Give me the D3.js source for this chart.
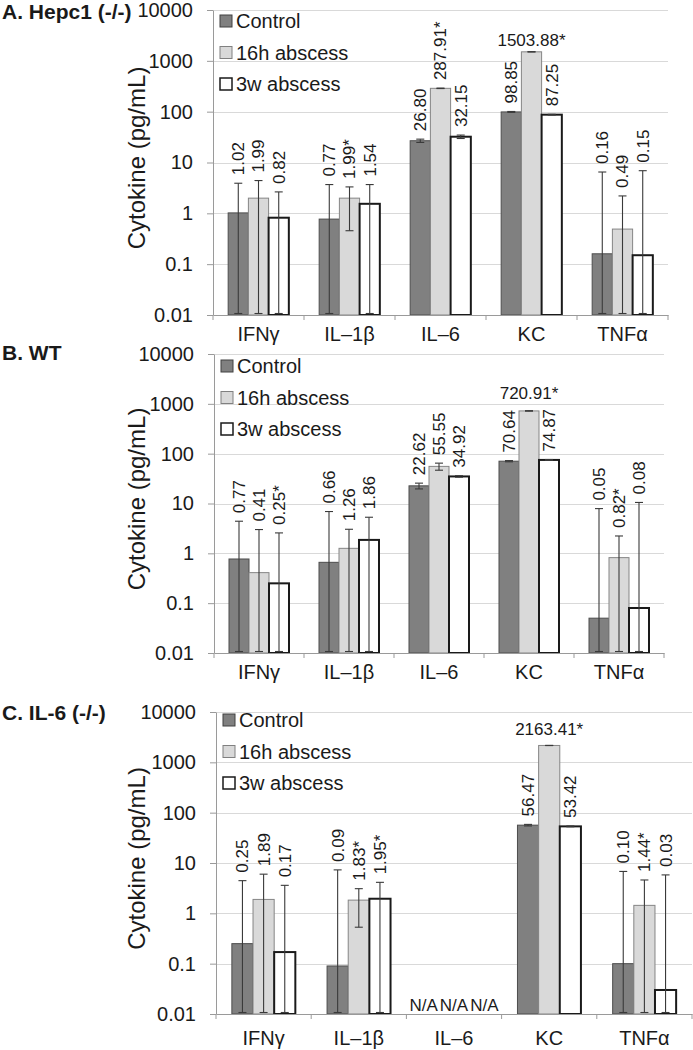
<!DOCTYPE html>
<html><head><meta charset="utf-8">
<script src="https://cdn.jsdelivr.net/npm/d3@7"></script>
<style>
body{margin:0;background:#fff;}
svg{display:block;font-family:"Liberation Sans",Arial,sans-serif;}
</style></head><body>
<svg id="chart" width="693" height="1050"></svg>
<script>
// ---------- data ----------
const categories = ["IFNγ", "IL–1β", "IL–6", "KC", "TNFα"];
const seriesNames = ["Control", "16h abscess", "3w abscess"];
const tickValues = [0.01, 0.1, 1, 10, 100, 1000, 10000];
const tickLabels = ["0.01", "0.1", "1", "10", "100", "1000", "10000"];
const panelTitles = ["A. Hepc1 (-/-)", "B. WT", "C. IL-6 (-/-)"];
const yTitle = "Cytokine (pg/mL)";
const naLabel = "N/A";

// Panel A: Hepc1 (-/-)
const aControl = [1.02, 0.77, 26.80, 98.85, 0.16];
const a16h     = [1.99, 1.99, 287.91, 1503.88, 0.49];
const a3w      = [0.82, 1.54, 32.15, 87.25, 0.15];
const aControlErrUp   = [2.89, 2.91, 2, 2, 6.34];
const a16hErrUp       = [2.42, 1.32, 3, 10, 1.71];
const a3wErrUp        = [1.82, 2.14, 2.5, 1.5, 6.75];
const aControlErrDown = [2.89, 2.91, 2, 2, 6.34];
const a16hErrDown     = [2.42, 1.535, 3, 10, 1.71];
const a3wErrDown      = [1.82, 2.14, 2.5, 1.5, 6.75];
const aControlStar = [false, false, false, false, false];
const a16hStar     = [false, true, true, true, false];
const a3wStar      = [false, false, false, false, false];

// Panel B: WT
const bControl = [0.77, 0.66, 22.62, 70.64, 0.05];
const b16h     = [0.41, 1.26, 55.55, 720.91, 0.82];
const b3w      = [0.25, 1.86, 34.92, 74.87, 0.08];
const bControlErrUp   = [3.64, 6.24, 3, 2, 7.85];
const b16hErrUp       = [2.59, 1.78, 9, 8, 1.41];
const b3wErrUp        = [2.32, 3.44, 1.2, 1.5, 10.42];
const bControlErrDown = [3.64, 6.24, 3, 2, 7.85];
const b16hErrDown     = [2.59, 1.78, 9, 8, 1.41];
const b3wErrDown      = [2.32, 3.44, 1.2, 1.5, 10.42];
const bControlStar = [false, false, false, false, false];
const b16hStar     = [false, false, false, true, true];
const b3wStar      = [true, false, false, false, false];

// Panel C: IL-6 (-/-)
const cControl = [0.25, 0.09, null, 56.47, 0.10];
const c16h     = [1.89, 1.83, null, 2163.41, 1.44];
const c3w      = [0.17, 1.95, null, 53.42, 0.03];
const cControlErrUp   = [4.21, 7.21, null, 2, 6.7];
const c16hErrUp       = [4.11, 1.26, null, 10, 3.16];
const c3wErrUp        = [3.43, 2.18, null, 1, 5.77];
const cControlErrDown = [4.21, 7.21, null, 2, 6.7];
const c16hErrDown     = [4.11, 1.30, null, 10, 3.16];
const c3wErrDown      = [3.43, 2.18, null, 1, 5.77];
const cControlStar = [false, false, false, false, false];
const c16hStar     = [false, true, false, true, true];
const c3wStar      = [false, true, false, false, false];

// ---------- styles / layout ----------
const seriesStyle = [
  {fill: "#808080", stroke: "#4d4d4d", sw: 1},
  {fill: "#d9d9d9", stroke: "#858585", sw: 1},
  {fill: "#ffffff", stroke: "#1a1a1a", sw: 2}
];
const legendStyle = [
  {fill: "#808080", stroke: "#404040", sw: 1},
  {fill: "#d9d9d9", stroke: "#808080", sw: 1},
  {fill: "#ffffff", stroke: "#1a1a1a", sw: 1.5}
];
const layouts = [
  {left: 213, right: 668, top: 10,  bottom: 315,  titleY: 19,  xLabelDy: 26, legendDy: 11, hGap: 6},
  {left: 214, right: 664, top: 354, bottom: 653,  titleY: 360, xLabelDy: 26, legendDy: 12, hGap: 12},
  {left: 216, right: 692, top: 712, bottom: 1014, titleY: 720, xLabelDy: 31, legendDy: 8,  hGap: 10}
];
const panels = [
  {title: panelTitles[0], L: layouts[0], series: [
    {values: aControl, up: aControlErrUp, down: aControlErrDown, star: aControlStar},
    {values: a16h, up: a16hErrUp, down: a16hErrDown, star: a16hStar},
    {values: a3w, up: a3wErrUp, down: a3wErrDown, star: a3wStar}]},
  {title: panelTitles[1], L: layouts[1], series: [
    {values: bControl, up: bControlErrUp, down: bControlErrDown, star: bControlStar},
    {values: b16h, up: b16hErrUp, down: b16hErrDown, star: b16hStar},
    {values: b3w, up: b3wErrUp, down: b3wErrDown, star: b3wStar}]},
  {title: panelTitles[2], L: layouts[2], series: [
    {values: cControl, up: cControlErrUp, down: cControlErrDown, star: cControlStar},
    {values: c16h, up: c16hErrUp, down: c16hErrDown, star: c16hStar},
    {values: c3w, up: c3wErrUp, down: c3wErrDown, star: c3wStar}]}
];

const TXT = "#1a1a1a", AX = "#9a9a9a", GRID = "#d9d9d9", ERR = "#3a3a3a";
const fmt = d3.format(".2f");

const svg = d3.select("#chart");
svg.append("rect").attr("width", 693).attr("height", 1050).attr("fill", "#fff");

panels.forEach(p => {
  const L = p.L;
  const g = svg.append("g");
  const x = d3.scaleBand().domain(categories).range([L.left, L.right]).padding(0);
  const cw = x.bandwidth();
  const xs = d3.scaleBand().domain(seriesNames).range([cw / 6, cw * 5 / 6]).padding(0);
  const y = d3.scaleLog().domain([0.01, 10000]).range([L.bottom, L.top]);

  // gridlines
  g.append("g").selectAll("line").data(tickValues.slice(1)).join("line")
    .attr("x1", L.left).attr("x2", L.right)
    .attr("y1", d => Math.round(y(d)) + 0.5).attr("y2", d => Math.round(y(d)) + 0.5)
    .attr("stroke", GRID).attr("stroke-width", 1);

  // bars
  p.series.forEach((s, si) => {
    const st = seriesStyle[si];
    g.append("g").selectAll("rect")
      .data(categories.map((c, ci) => ({c, v: s.values[ci]})).filter(d => d.v != null))
      .join("rect")
      .attr("x", d => x(d.c) + xs(seriesNames[si]))
      .attr("width", xs.bandwidth())
      .attr("y", d => y(d.v))
      .attr("height", d => L.bottom - y(d.v))
      .attr("fill", st.fill).attr("stroke", st.stroke).attr("stroke-width", st.sw);
  });

  // y axis
  const ya = d3.axisLeft(y).tickValues(tickValues).tickFormat((d, i) => tickLabels[i])
    .tickSizeInner(6).tickSizeOuter(0).tickPadding(14);
  const yg = g.append("g").attr("transform", `translate(${L.left},0)`).call(ya)
    .attr("font-family", null).attr("font-size", null);
  yg.select(".domain").attr("stroke", AX);
  yg.selectAll(".tick line").attr("stroke", AX);
  yg.selectAll(".tick text").attr("font-size", 20).attr("fill", TXT);

  // x axis
  const xa = d3.axisBottom(x).tickSize(0).tickPadding(0);
  const xg = g.append("g").attr("transform", `translate(0,${L.bottom})`).call(xa)
    .attr("font-family", null).attr("font-size", null);
  xg.select(".domain").attr("stroke", AX);
  xg.selectAll(".tick text").attr("font-size", 20).attr("fill", TXT)
    .attr("dy", null).attr("y", L.xLabelDy);
  // category boundary ticks
  g.append("g").selectAll("line").data(categories.concat(["__end"])).join("line")
    .attr("x1", d => d === "__end" ? L.right : x(d))
    .attr("x2", d => d === "__end" ? L.right : x(d))
    .attr("y1", L.bottom).attr("y2", L.bottom + 5)
    .attr("stroke", AX);

  // error bars
  p.series.forEach((s, si) => {
    categories.forEach((c, ci) => {
      const v = s.values[ci];
      if (v == null) return;
      const cx = x(c) + xs(seriesNames[si]) + xs.bandwidth() / 2;
      const hi = v + s.up[ci];
      const lo = v - s.down[ci];
      const yHi = y(hi);
      const yLo = lo > 0.01 ? y(lo) : L.bottom - 1.5;
      const eg = g.append("g").attr("stroke", ERR).attr("stroke-width", 1.1);
      eg.append("line").attr("x1", cx).attr("x2", cx).attr("y1", yHi).attr("y2", yLo);
      eg.append("line").attr("x1", cx - 4).attr("x2", cx + 4).attr("y1", yHi).attr("y2", yHi);
      eg.append("line").attr("x1", cx - 4).attr("x2", cx + 4).attr("y1", yLo).attr("y2", yLo);
    });
  });

  // data labels
  p.series.forEach((s, si) => {
    categories.forEach((c, ci) => {
      const v = s.values[ci];
      const cx = x(c) + xs(seriesNames[si]) + xs.bandwidth() / 2;
      if (v == null) return;
      const label = fmt(v) + (s.star[ci] ? "*" : "");
      const anchorY = y(v + s.up[ci]) - 8;
      const t = g.append("text").attr("font-size", 17).attr("fill", TXT).text(label);
      const len = t.node().getComputedTextLength();
      if (anchorY - len < L.top) {
        t.attr("x", cx).attr("y", y(v) - L.hGap).attr("text-anchor", "middle");
      } else {
        t.attr("transform", `translate(${cx},${anchorY}) rotate(-90)`)
          .attr("dy", "0.35em").attr("text-anchor", "start");
      }
    });
  });
  // N/A for categories with no data
  categories.forEach((c, ci) => {
    if (p.series.every(s => s.values[ci] == null)) {
      const center = x(c) + cw / 2;
      const tmp = g.append("text").attr("font-size", 17).text(naLabel);
      const w = tmp.node().getComputedTextLength() + 2;
      tmp.remove();
      p.series.forEach((s, si) => {
        g.append("text").attr("font-size", 17).attr("fill", TXT)
          .attr("x", center + (si - 1) * w).attr("y", L.bottom - 3)
          .attr("text-anchor", "middle").text(naLabel);
      });
    }
  });

  // legend
  const lg = g.append("g");
  seriesNames.forEach((n, i) => {
    const cy = L.top + L.legendDy + i * 31.5;
    const st = legendStyle[i];
    lg.append("rect").attr("x", L.left + 7).attr("y", cy - 6).attr("width", 12).attr("height", 12)
      .attr("fill", st.fill).attr("stroke", st.stroke).attr("stroke-width", st.sw);
    lg.append("text").attr("x", L.left + 23).attr("y", cy).attr("dy", "0.36em")
      .attr("font-size", 20).attr("fill", TXT).text(n);
  });

  // y title
  const yc = (L.top + L.bottom) / 2 - 4.5;
  g.append("text").attr("transform", `translate(137,${yc}) rotate(-90)`)
    .attr("text-anchor", "middle").attr("dy", "0.35em")
    .attr("font-size", 24).attr("fill", TXT).text(yTitle);

  // panel title
  g.append("text").attr("x", 2).attr("y", L.titleY).attr("font-size", 21)
    .attr("font-weight", "bold").attr("fill", TXT).text(p.title);
});
</script>
</body></html>
